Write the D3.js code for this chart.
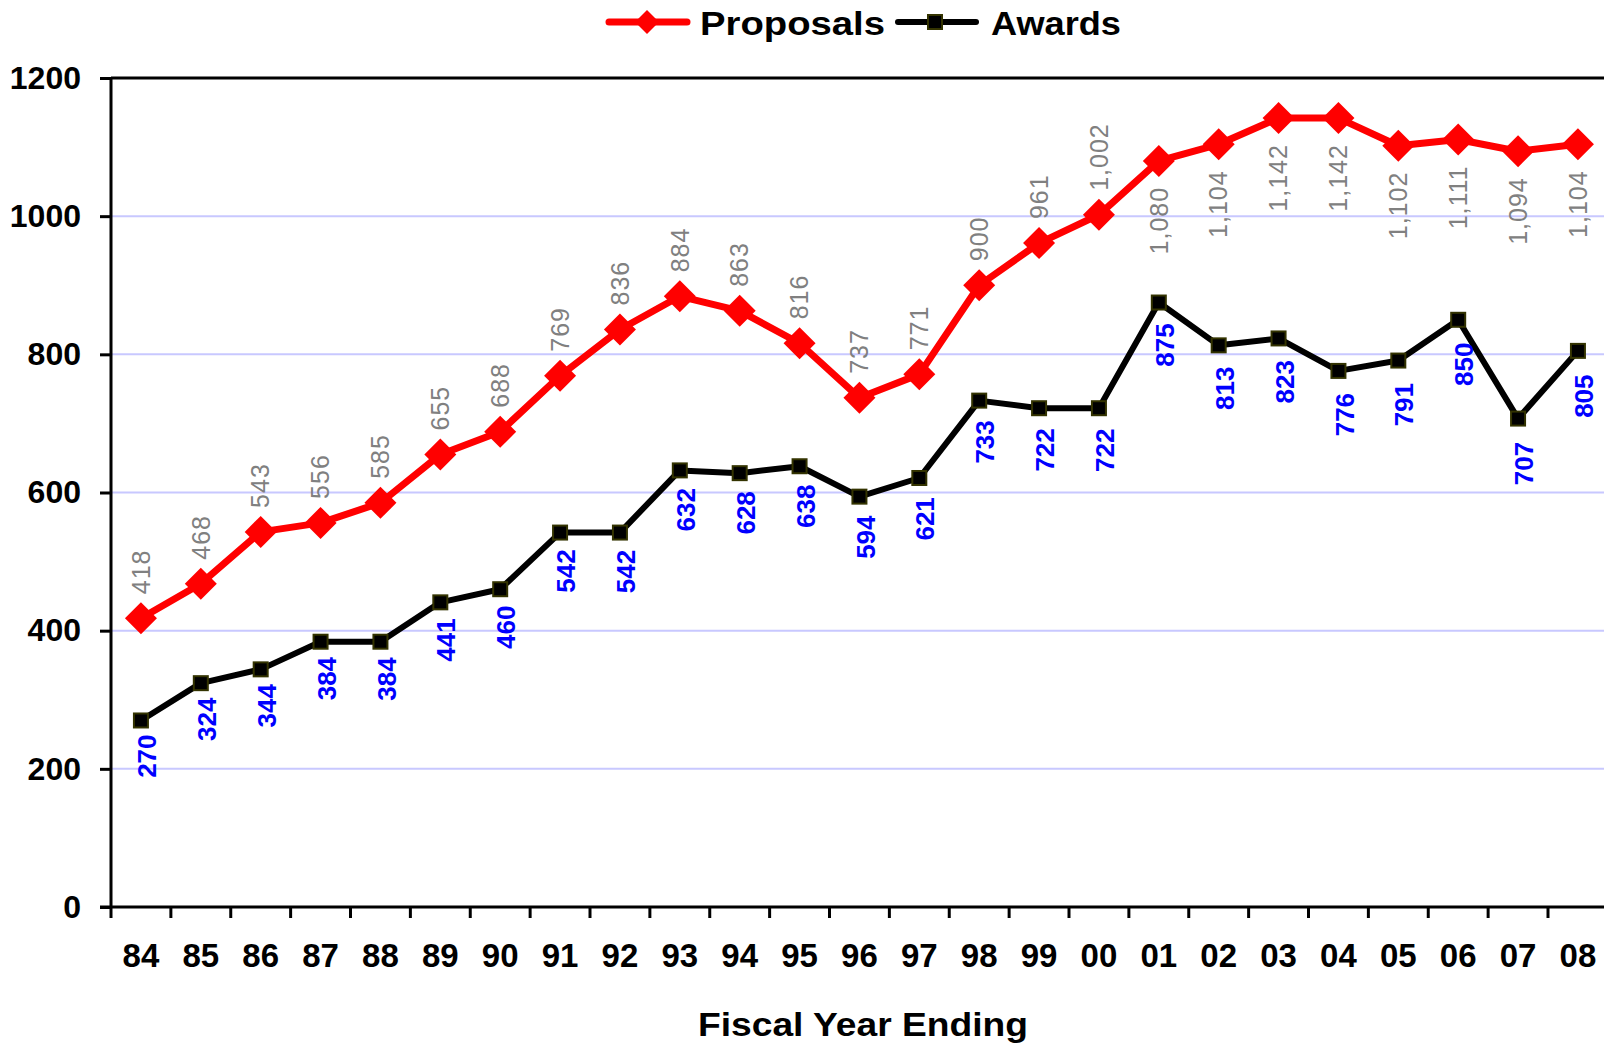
<!DOCTYPE html>
<html>
<head>
<meta charset="utf-8">
<script src="https://cdn.jsdelivr.net/npm/d3@7/dist/d3.min.js"></script>
<style>
  html, body { margin: 0; padding: 0; background: #ffffff; }
  svg { display: block; font-family: "Liberation Sans", Arial, sans-serif; }
</style>
</head>
<body>
<svg id="chart" width="1604" height="1044"></svg>
<script>
const years = ["84","85","86","87","88","89","90","91","92","93","94","95","96","97","98","99","00","01","02","03","04","05","06","07","08"];
const proposals = [418,468,543,556,585,655,688,769,836,884,863,816,737,771,900,961,1002,1080,1104,1142,1142,1102,1111,1094,1104];
const awards = [270,324,344,384,384,441,460,542,542,632,628,638,594,621,733,722,722,875,813,823,776,791,850,707,805];
const yTicks = [0,200,400,600,800,1000,1200];
const gridTicks = [200,400,600,800,1000];
const seriesNames = ["Proposals","Awards"];
const xTitle = "Fiscal Year Ending";

const svg = d3.select("#chart");
const plotLeft = 111, plotTop = 78, plotBottom = 907, step = 59.875;
const x = d3.scaleBand().domain(years).range([plotLeft, plotLeft + step * years.length]).padding(0);
const bw = x.bandwidth();
const cx = d => x(d) + bw / 2;
const y = d3.scaleLinear().domain([0, 1200]).range([plotBottom, plotTop]);
const fmt = d3.format(",");

// gridlines
svg.append("g").selectAll("line").data(gridTicks).join("line")
  .attr("x1", plotLeft).attr("x2", 1604)
  .attr("y1", d => y(d)).attr("y2", d => y(d))
  .attr("stroke", "#c8c8ff").attr("stroke-width", 2);

// top border
svg.append("line").attr("x1", plotLeft).attr("x2", 1604)
  .attr("y1", y(1200)).attr("y2", y(1200))
  .attr("stroke", "#000").attr("stroke-width", 3);

// y axis
const yAxis = svg.append("g").attr("transform", `translate(${plotLeft},0)`)
  .call(d3.axisLeft(y).tickValues(yTicks).tickSize(11).tickPadding(19).tickFormat(d3.format("d")));
yAxis.select(".domain").attr("stroke", "#000").attr("stroke-width", 3).attr("d", `M0,${y(1200)}V${y(0)}`);
yAxis.selectAll(".tick line").attr("stroke", "#000").attr("stroke-width", 3);
yAxis.selectAll(".tick text").attr("font-size", 32).attr("font-weight", "bold").attr("fill", "#000")
  .attr("font-family", "'Liberation Sans', Arial, sans-serif");

// x axis
const xAxis = svg.append("g").attr("transform", `translate(0,${plotBottom})`)
  .call(d3.axisBottom(x).tickSize(0).tickPadding(37));
xAxis.select(".domain").attr("stroke", "#000").attr("stroke-width", 3).attr("d", `M${plotLeft - 11},0H1604`);
xAxis.selectAll(".tick text").attr("font-size", 33).attr("font-weight", "bold").attr("fill", "#000")
  .attr("font-family", "'Liberation Sans', Arial, sans-serif");
// boundary ticks
const bounds = years.map(d => x(d)).concat([x(years[years.length - 1]) + bw]);
svg.append("g").selectAll("line").data(bounds).join("line")
  .attr("x1", d => d).attr("x2", d => d)
  .attr("y1", plotBottom).attr("y2", plotBottom + 11)
  .attr("stroke", "#000").attr("stroke-width", 3);

// x title
svg.append("text").attr("x", 698).attr("y", 1036)
  .attr("font-size", 33).attr("font-weight", "bold").attr("fill", "#000")
  .attr("textLength", 330).attr("lengthAdjust", "spacingAndGlyphs").text(xTitle);

// lines
const line = d3.line().x((d, i) => cx(years[i])).y(d => y(d));
svg.append("path").datum(awards).attr("d", line).attr("fill", "none")
  .attr("stroke", "#000").attr("stroke-width", 6).attr("stroke-linejoin", "round");
svg.append("path").datum(proposals).attr("d", line).attr("fill", "none")
  .attr("stroke", "#ff0000").attr("stroke-width", 7).attr("stroke-linejoin", "round");

// markers
const dia = r => `M0,${-r}L${r},0L0,${r}L${-r},0Z`;
svg.append("g").selectAll("path").data(proposals).join("path")
  .attr("transform", (d, i) => `translate(${cx(years[i])},${y(d)})`)
  .attr("d", dia(16)).attr("fill", "#ff0000");
svg.append("g").selectAll("rect").data(awards).join("rect")
  .attr("x", (d, i) => cx(years[i]) - 7).attr("y", d => y(d) - 7)
  .attr("width", 14).attr("height", 14)
  .attr("fill", "#000").attr("stroke", "#333300").attr("stroke-width", 2);

// data labels - proposals (gray)
svg.append("g").selectAll("text").data(proposals).join("text")
  .attr("transform", (d, i) => {
    const px = cx(years[i]);
    const py = i <= 16 ? y(d) - 24 : y(d) + 26;
    return `translate(${px},${py}) rotate(-90)`;
  })
  .attr("text-anchor", (d, i) => i <= 16 ? "start" : "end")
  .attr("dy", "0.35em")
  .attr("font-size", 25).attr("letter-spacing", 1).attr("fill", "#808080")
  .text(d => fmt(d));

// data labels - awards (blue)
svg.append("g").selectAll("text").data(awards).join("text")
  .attr("transform", (d, i) => `translate(${cx(years[i]) + 6},${y(d) + 14 + 0.4 * i}) rotate(-90)`)
  .attr("text-anchor", "end")
  .attr("dy", "0.35em")
  .attr("font-size", 26).attr("font-weight", "bold").attr("fill", "#0000ff")
  .text(d => fmt(d));

// legend
const lg = svg.append("g");
lg.append("line").attr("x1", 609).attr("x2", 687).attr("y1", 22).attr("y2", 22)
  .attr("stroke", "#ff0000").attr("stroke-width", 7).attr("stroke-linecap", "round");
lg.append("path").attr("transform", "translate(647,22)").attr("d", dia(12)).attr("fill", "#ff0000");
lg.append("text").attr("x", 700).attr("y", 35).attr("font-size", 34).attr("font-weight", "bold")
  .attr("fill", "#000").attr("textLength", 185).attr("lengthAdjust", "spacingAndGlyphs").text(seriesNames[0]);
lg.append("line").attr("x1", 898).attr("x2", 976).attr("y1", 22).attr("y2", 22)
  .attr("stroke", "#000").attr("stroke-width", 6).attr("stroke-linecap", "round");
lg.append("rect").attr("x", 928).attr("y", 15).attr("width", 14).attr("height", 14)
  .attr("fill", "#000").attr("stroke", "#333300").attr("stroke-width", 2);
lg.append("text").attr("x", 991).attr("y", 35).attr("font-size", 34).attr("font-weight", "bold")
  .attr("fill", "#000").attr("textLength", 130).attr("lengthAdjust", "spacingAndGlyphs").text(seriesNames[1]);
</script>
</body>
</html>
